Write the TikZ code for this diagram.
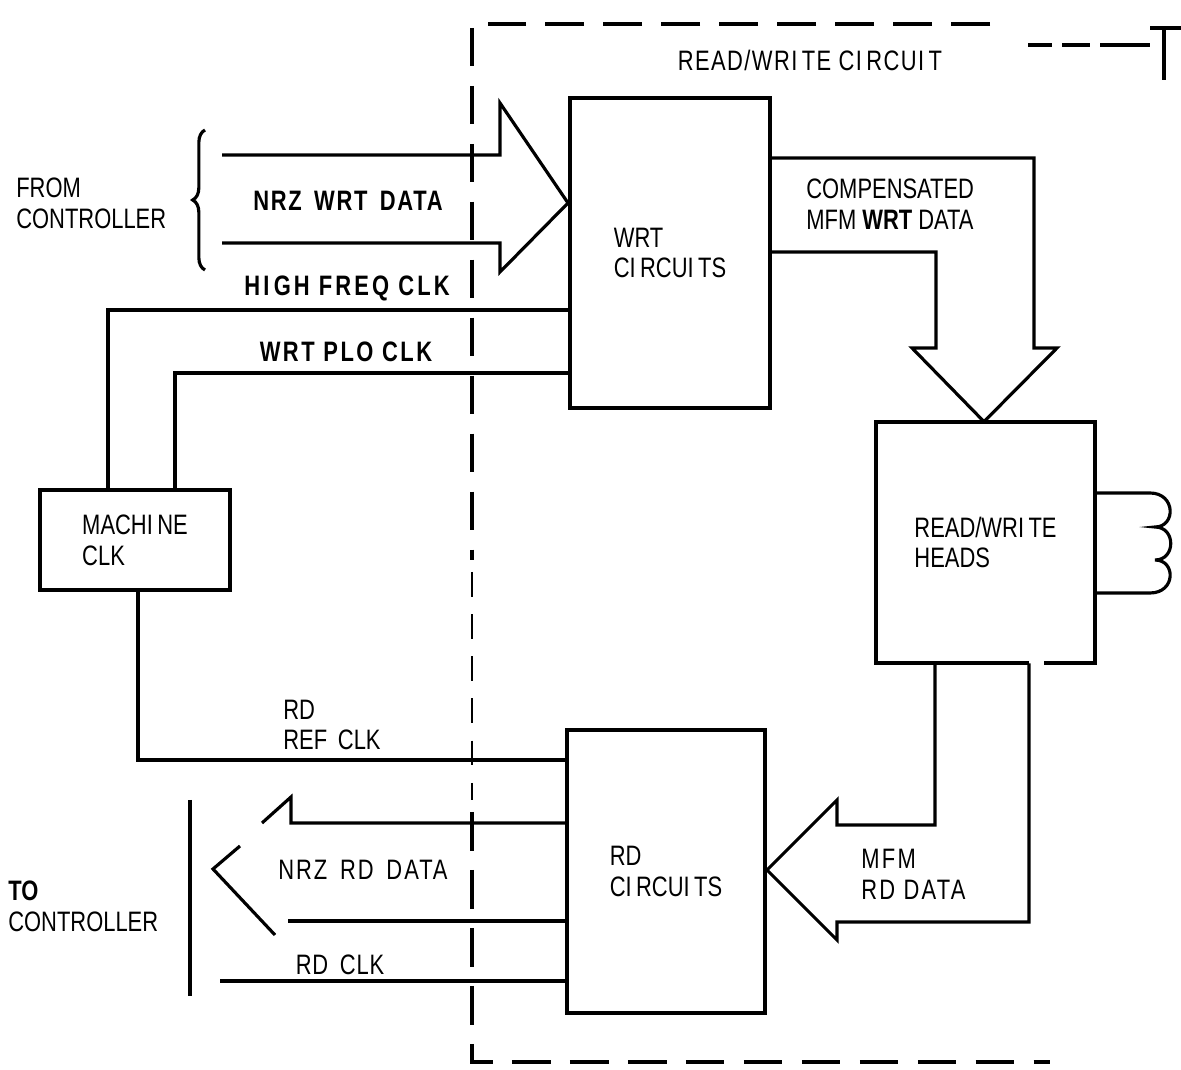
\documentclass[tikz,border=0pt]{standalone}
\usepackage{fontspec}
\setmainfont{Liberation Sans}[FakeStretch=0.78]
\usetikzlibrary{decorations.pathreplacing}
\newcommand{\Ik}{I\kern2.5pt}

\begin{document}
\begin{tikzpicture}[
	x=0.02cm, y=-0.02cm,
	font=\fontsize{16}{17.5}\selectfont,
	box/.style={rectangle, draw, line width=2.3pt, align=left, inner sep=0pt},
	boxtext/.style={rectangle, align=left, inner sep=0pt},
	txt/.style={align=left, inner sep=0pt},
	spaced/.style={font=\fontsize{16}{17.5}\selectfont\addfontfeature{LetterSpace=#1}},
	boldtxt/.style={font=\fontsize{16}{17.5}\selectfont\bfseries\addfontfeature{LetterSpace=#1}},
	wire/.style={line width=1.8pt, line join=miter},
	fence/.style={line width=2pt, dash pattern=on 22pt off 11pt},
	thinfence/.style={line width=0.8pt, dash pattern=on 14pt off 10pt}
	]
	\useasboundingbox (0,0) rectangle (1181,1070);

	% dashed boundary of the read/write circuit
	\draw[fence] (990,24) -- (472,24) -- (472,560);
	\draw[thinfence] (472,572) -- (472,800);
	\draw[fence] (472,812) -- (472,1062) -- (1050,1062);
	\draw[wire, line width=2.2pt] (1028,45) -- (1052,45) (1062,45) -- (1090,45) (1100,45) -- (1150,45);
	\draw[wire] (1150,28) -- (1181,28) (1164,28) -- (1164,80);
	\node[txt, spaced=5] (title) at (810,60) {READ/WR\Ik TE C\Ik RCU\Ik T};

	% blocks
	\node[box, minimum width=4cm, minimum height=6.2cm] (wrt) at (670,253) {WRT\\C\Ik RCU\Ik TS};
	\node[box, minimum width=3.96cm, minimum height=5.66cm] (rd) at (666,871.5) {RD\\C\Ik RCU\Ik TS};
	\node[box, minimum width=3.8cm, minimum height=2cm] (mclk) at (135,540) {MACH\Ik NE\\CLK};
	\node[boxtext, minimum width=4.38cm, minimum height=4.82cm] (heads) at (985.5,542.5) {READ/WR\Ik TE\\HEADS};
	\draw[box] (1029,0 |- heads.south) -- (heads.south west) -- (heads.north west)
		-- (heads.north east) -- (heads.south east) -- (1044,0 |- heads.south);

	% coil on the heads
	\draw[wire] (heads.east |- 0,493) -- (1150,493)
		.. controls (1176,493) and (1176,527) .. (1155,527)
		.. controls (1176,527) and (1176,560) .. (1155,560)
		.. controls (1176,560) and (1176,593) .. (1150,593) -- (heads.east |- 0,593);

	% write data in
	\coordinate (wdtop) at (222,155);
	\coordinate (wdbot) at (222,243);
	\draw[wire] (wdtop) -- (500,155) -- (500,103) -- (wrt.west |- 0,203)
		-- (500,272) -- (500,243) -- (wdbot);
	\node[txt, boldtxt=6] (nrzwrt) at (348,201) {NRZ\, WRT\, DATA};
	\draw[wire, decorate, decoration={brace, amplitude=7pt}] (205,270) -- (205,130);
	\node[txt, anchor=west] (fromctl) at (16,203) {FROM\\CONTROLLER};

	% compensated write data to heads
	\draw[wire] (wrt.east |- 0,158) -- (1034,158) -- (1034,348) -- (1057,348)
		-- (984,0 |- heads.north) -- (912,348) -- (936,348) -- (936,252) -- (wrt.east |- 0,252);
	\node[txt, anchor=west] (compwrt) at (806,204) {COMPENSATED\\MFM \textbf{WRT} DATA};

	% clocks
	\draw[wire] (wrt.west |- 0,310) -| (108,0 |- mclk.north);
	\node[txt, boldtxt=11] (hfclk) at (347,288) {H\Ik GH FREQ CLK};
	\draw[wire] (wrt.west |- 0,373) -| (175,0 |- mclk.north);
	\node[txt, boldtxt=9] (ploclk) at (346,352) {WRT PLO CLK};
	\draw[wire] (138,0 |- mclk.south) |- (rd.west |- 0,760);
	\node[txt, anchor=west] (refclk) at (283,725) {RD\\REF\, CLK};

	% read data from heads
	\draw[wire] (1029,0 |- heads.south) -- (1029,922) -- (837,922) -- (837,940)
		-- (rd.east |- 0,870) -- (837,800) -- (837,825) -- (935,825) -- (935,0 |- heads.south);
	\node[txt, anchor=west, spaced=8] (mfmrd) at (861,874) {MFM\\RD DATA};

	% read data out
	\draw[wire] (rd.west |- 0,823) -- (291,823) -- (291,797) -- (262,823);
	\draw[wire] (240,846) -- (213,869) -- (275,935);
	\draw[wire] (rd.west |- 0,921) -- (288,921);
	\node[txt, spaced=7] (nrzrd) at (363,870) {NRZ\, RD\, DATA};
	\coordinate (rdclkend) at (220,981);
	\draw[wire] (rd.west |- 0,981) -- (rdclkend);
	\node[txt, spaced=3] (rdclk) at (340,965) {RD\, CLK};
	\draw[wire] (190,800) -- (190,996);
	\node[txt, anchor=west] (toctl) at (8,906) {\textbf{TO}\\CONTROLLER};
\end{tikzpicture}
\end{document}
